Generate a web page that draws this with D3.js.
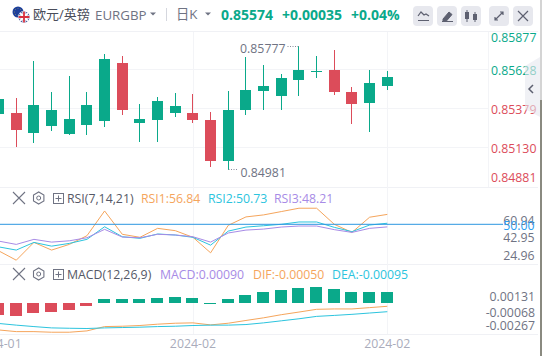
<!DOCTYPE html>
<html><head><meta charset="utf-8">
<script src="https://cdn.jsdelivr.net/npm/d3@7/dist/d3.min.js"></script>
<style>html,body{margin:0;padding:0;background:#fff}svg{display:block}
text{font-family:"Open Sans","Noto Sans CJK SC",sans-serif}</style></head><body>
<svg id="c" width="542" height="356"></svg>
<script>
const opens =[0.85338,0.85347,0.85219,0.85264,0.85213,0.85270,0.85296,0.85666,0.85283,0.85302,0.85347,0.85347,0.85302,0.85041,0.85366,0.85488,0.85456,0.85558,0.85606,0.85622,0.85481,0.85411,0.85519];
const closes=[0.85436,0.85239,0.85398,0.85366,0.85309,0.85398,0.85692,0.85366,0.85309,0.85424,0.85392,0.85302,0.85041,0.85366,0.85494,0.85519,0.85571,0.85622,0.85615,0.85481,0.85404,0.85539,0.85574];
const highs =[0.85470,0.85443,0.85679,0.85481,0.85583,0.85481,0.85724,0.85711,0.85404,0.85449,0.85475,0.85468,0.85353,0.85488,0.85705,0.85654,0.85596,0.85777,0.85711,0.85749,0.85513,0.85622,0.85615];
const lows  =[0.85300,0.85130,0.85156,0.85232,0.85207,0.85207,0.85258,0.85334,0.85162,0.85162,0.85322,0.85283,0.85002,0.84981,0.85334,0.85366,0.85366,0.85456,0.85571,0.85462,0.85277,0.85226,0.85494];

const rsi1=[31.7,25.2,37.5,32.2,36.1,42.1,59.2,43.1,41.0,47.2,45.6,41.0,30.3,49.3,55.1,56.5,58.8,61.1,61.1,50.0,44.4,54.9,56.84];
const rsi2=[34.4,32.2,37.5,34.9,36.8,39.6,48.3,41.4,40.3,43.3,42.6,41.0,35.6,45.3,48.1,49.0,50.0,51.6,51.6,47.9,44.9,49.5,50.73];
const rsi3=[38.4,36.1,39.6,37.7,38.6,40.7,46.5,41.2,40.7,43.1,42.6,41.4,37.7,44.0,46.0,46.7,48.1,48.8,48.8,46.3,44.4,47.2,48.21];
const rsiTicks=[60.94,42.95,24.96];

const hist=[-0.00096,-0.00106,-0.00082,-0.00074,-0.00057,-0.00025,0.00033,0.00033,0.00033,0.00041,0.00049,0.00041,0.00003,0.00033,0.00065,0.00090,0.00106,0.00123,0.00131,0.00115,0.00090,0.00090,0.00090];
const dif=[-0.00247,-0.00261,-0.00261,-0.00266,-0.00266,-0.00255,-0.00219,-0.00216,-0.00210,-0.00199,-0.00191,-0.00188,-0.00205,-0.00191,-0.00168,-0.00146,-0.00120,-0.00098,-0.00075,-0.00072,-0.00072,-0.00061,-0.00050];
const dea=[-0.00193,-0.00207,-0.00219,-0.00230,-0.00233,-0.00235,-0.00230,-0.00227,-0.00224,-0.00219,-0.00216,-0.00210,-0.00207,-0.00207,-0.00202,-0.00188,-0.00171,-0.00154,-0.00134,-0.00126,-0.00117,-0.00106,-0.00095];
const macdTicks=[0.00131,-0.00068,-0.00267];
const priceTicks=[0.85877,0.85628,0.85379,0.85130,0.84881];
const dateLabels=[[0,"2024-01"],[11,"2024-02"],[22,"2024-02"]];

const GREEN="#0aa98a",RED="#dc4c5a",ORANGE="#f5a55c",CYAN="#2cc4de",PURPLE="#a78be6",GRID="#f3f4f7",AXIS="#6f7383";
const svg=d3.select("#c");
const x=d3.scaleLinear().domain([0,22]).range([-1.4,387.3]);
const py=d3.scaleLinear().domain([0.85628,0.85379]).range([69,108]);
const ry=d3.scaleLinear().domain([50,56.84]).range([224.3,214.4]);
const rLabelY=d3.scaleLinear().domain(rsiTicks).range([220,237.7,255]);
const hy=d3.scaleLinear().domain([0,0.0009]).range([303,292]);
const ly=d3.scaleLinear().domain([-0.0005,-0.00095]).range([306.3,311.7]);
const mLabelY=d3.scaleLinear().domain(macdTicks).range([296.3,312,325.3]);
const pLabelY=p=>Math.max(37,Math.min(177,py(p)+1));

const line=(xa,ya,xb,yb,c,w=1)=>svg.append("line").attr("x1",xa).attr("y1",ya).attr("x2",xb).attr("y2",yb).attr("stroke",c).attr("stroke-width",w);
const txt=(tx,ty,s,fs,c,a="start",fw=400)=>svg.append("text").attr("x",tx).attr("y",ty).attr("font-size",fs).attr("fill",c).attr("text-anchor",a).attr("font-weight",fw).attr("dominant-baseline","central").text(s);

// frame & grid
[31.5,187.5,264.5,334.5].forEach(y=>line(0,y,538,y,"#f0f1f5"));
priceTicks.slice(1,4).forEach(p=>line(0,Math.round(py(p))+.5,488,Math.round(py(p))+.5,GRID));
[193.5,387.5].forEach(v=>line(v,32,v,334,GRID));
line(488.5,32,488.5,187,"#f3f4f7");

// candles
const g=svg.append("g");
opens.forEach((o,i)=>{
  const c=closes[i]>=o?GREEN:RED,cx=Math.floor(x(i))+.5;
  g.append("line").attr("x1",cx).attr("x2",cx).attr("y1",Math.round(py(highs[i]))).attr("y2",Math.round(py(lows[i]))).attr("stroke",c).attr("stroke-width",1);
  const t=Math.round(Math.min(py(o),py(closes[i]))),b=Math.round(Math.max(py(o),py(closes[i])));
  g.append("rect").attr("x",cx-5.5).attr("width",11).attr("y",t).attr("height",Math.max(b-t,1)).attr("fill",c);
});
// hi / lo annotations
const hiI=d3.maxIndex(highs),loI=d3.minIndex(lows);
const hix=Math.floor(x(hiI))+.5,lox=Math.floor(x(loI))+.5;
svg.append("path").attr("d",`M${hix-11},${Math.round(py(highs[hiI]))+.5}H${hix}`).attr("stroke","#888c9a").attr("stroke-dasharray","1 1.5").attr("fill","none");
svg.append("path").attr("d",`M${lox},${Math.round(py(lows[loI]))-.5}H${lox+10}`).attr("stroke","#888c9a").attr("stroke-dasharray","1 1.5").attr("fill","none");
txt(hix-13,py(highs[hiI])+2.5,d3.format(".5f")(highs[hiI]),12.3,AXIS,"end");
txt(lox+12,py(lows[loI])+2.5,d3.format(".5f")(lows[loI]),12.3,AXIS);

// price axis labels
priceTicks.forEach(p=>txt(491,pLabelY(p),p.toFixed(5),12.3,p>=closes[22]?GREEN:RED));

// RSI
const L=(arr,yf,c)=>svg.append("path").datum(arr).attr("fill","none").attr("stroke",c).attr("stroke-width",1)
   .attr("d",d3.line().x((d,i)=>x(i)).y(yf));
L(rsi1,d=>ry(d),ORANGE);L(rsi2,d=>ry(d),CYAN);L(rsi3,d=>ry(d),PURPLE);
line(0,ry(50),503,ry(50),"#2c96e0");
rsiTicks.forEach(t=>txt(534.5,rLabelY(t),t.toFixed(2),12.3,AXIS,"end"));
txt(534.5,225.5,"50.00",12.3,"#2b9df0","end");

// MACD
hist.forEach((h,i)=>{
  const top=Math.round(Math.min(hy(h),hy(0))),ht=Math.round(Math.abs(hy(h)-hy(0)));
  svg.append("rect").attr("x",Math.floor(x(i))-6).attr("width",12).attr("y",top).attr("height",Math.max(ht,1)).attr("fill",h>=0?GREEN:RED);
});
L(dif,d=>ly(d),ORANGE);L(dea,d=>ly(d),CYAN);
macdTicks.forEach(t=>txt(535,mLabelY(t),t.toFixed(5),12.3,AXIS,"end"));

// date axis
dateLabels.forEach(([i,s])=>txt(x(i),343,s,12.3,"#a9acbb","middle"));

// pane legends
function controls(y){
  svg.append("path").attr("d",`M13,${y-6}l12,12m0,-12l-12,12`).attr("stroke",AXIS).attr("stroke-width",1.1).attr("fill","none");
  const hex=d3.range(6).map(k=>[38.7+6*Math.sin(k*Math.PI/3),y+6*Math.cos(k*Math.PI/3)]);
  svg.append("polygon").attr("points",hex.join(" ")).attr("fill","none").attr("stroke",AXIS).attr("stroke-width",1.1);
  svg.append("circle").attr("cx",38.7).attr("cy",y).attr("r",2).attr("fill","none").attr("stroke",AXIS);
  svg.append("rect").attr("x",53.5).attr("y",y-4.5).attr("width",10).attr("height",10).attr("fill","none").attr("stroke",AXIS);
  svg.append("path").attr("d",`M58.5,${y-2.5}v6M55.5,${y+.5}h6`).attr("stroke",AXIS).attr("fill","none");
}
controls(198);controls(274);
txt(67,198.5,"RSI(7,14,21)",12.3,"#555866");
txt(141,198.5,"RSI1:"+rsi1[22].toFixed(2),12.3,ORANGE);
txt(208,198.5,"RSI2:"+rsi2[22].toFixed(2),12.3,CYAN);
txt(274,198.5,"RSI3:"+rsi3[22].toFixed(2),12.3,PURPLE);
txt(67,274.5,"MACD(12,26,9)",12.3,"#555866");
txt(160,274.5,"MACD:"+hist[22].toFixed(5),12.3,PURPLE);
txt(253,274.5,"DIF:"+dif[22].toFixed(5),12.3,ORANGE);
txt(332,274.5,"DEA:"+dea[22].toFixed(5),12.3,CYAN);

// header
const clip=svg.append("defs");
clip.append("clipPath").attr("id","uk").append("circle").attr("cx",24).attr("cy",17).attr("r",5.5);
svg.append("circle").attr("cx",18).attr("cy",12).attr("r",5.5).attr("fill","#1d3f9a");
d3.range(8).forEach(k=>svg.append("circle").attr("cx",18+3.4*Math.cos(k*Math.PI/4)).attr("cy",12+3.4*Math.sin(k*Math.PI/4)).attr("r",.4).attr("fill","#e8c93a"));
svg.append("circle").attr("cx",24).attr("cy",17).attr("r",6).attr("fill","#fff");
const uk=svg.append("g").attr("clip-path","url(#uk)");
uk.append("rect").attr("x",18).attr("y",11).attr("width",12).attr("height",12).attr("fill","#2a3f8f");
uk.append("path").attr("d","M18,11L30,23M30,11L18,23").attr("stroke","#fff").attr("stroke-width",2);
uk.append("path").attr("d","M24,11V23M18,17H30").attr("stroke","#fff").attr("stroke-width",3.4);
uk.append("path").attr("d","M24,11V23M18,17H30").attr("stroke","#d8313f").attr("stroke-width",1.8);
txt(33,13.5,"欧元/英镑",13,"#4a4d5a");
txt(95,14.5,"EURGBP",13.3,"#6f7383");
svg.append("path").attr("d","M150,12.5h6l-3,3z").attr("fill","#6f7383");
line(166.5,8,166.5,21,"#d5d7de");
txt(176,13.5,"日K",13.3,"#6f7383");
svg.append("path").attr("d","M205,12.5h6l-3,3z").attr("fill","#6f7383");
txt(221,14,closes[22].toFixed(5),14,GREEN,"start",700);
txt(282,14,"+0.00035",14,GREEN,"start",700);
txt(351,14,"+0.04%",14,GREEN,"start",700);
[413,437,461,489,513].forEach(bx=>svg.append("rect").attr("x",bx).attr("y",6).attr("width",20).attr("height",20).attr("rx",4).attr("fill","#e7e8ee"));
svg.append("path").attr("d","M418,16l3,-4l3,3l2,-1l3,2M418,20.5h11").attr("fill","none").attr("stroke","#5d6070").attr("stroke-width",1.2);
svg.append("path").attr("d","M443,19l6,-7l3,2.5l-6,7l-3,0zM442,21.5h11").attr("fill","#5d6070").attr("stroke","#5d6070");
svg.append("path").attr("d","M467,10v12M475,12v10").attr("stroke","#5d6070");
svg.append("rect").attr("x",465).attr("y",12).attr("width",4).attr("height",7).attr("fill","#5d6070");
svg.append("rect").attr("x",473).attr("y",14).attr("width",4).attr("height",6).attr("fill","#5d6070");
svg.append("path").attr("d","M495,20l8,-8M500,12h3v3M495,17v3h3").attr("fill","none").attr("stroke","#5d6070").attr("stroke-width",1.2);
svg.append("path").attr("d","M518,11l10,10M528,11l-10,10").attr("fill","none").attr("stroke","#5d6070").attr("stroke-width",1.2);

// collapse tab and edge
svg.append("path").attr("d","M540,57L525,66V109L540,117Z").attr("fill","#e6e8ee").attr("opacity",.6);
svg.append("path").attr("d","M533,85l-4,4l4,4").attr("fill","none").attr("stroke","#5d6070").attr("stroke-width",1.5);
svg.append("rect").attr("x",540).attr("y",0).attr("width",2).attr("height",100).attr("fill","#d4d4d4");
svg.append("rect").attr("x",540).attr("y",100).attr("width",2).attr("height",256).attr("fill","#8a8a80");
</script></body></html>
